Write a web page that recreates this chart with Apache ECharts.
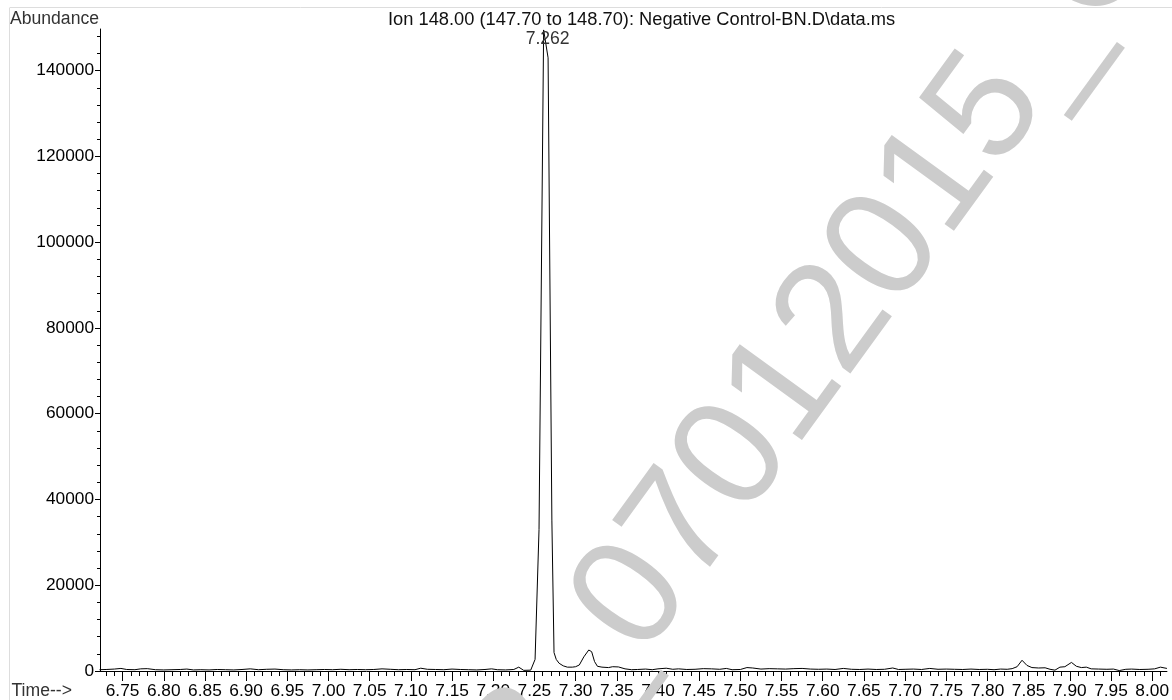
<!DOCTYPE html>
<html>
<head>
<meta charset="utf-8">
<script src="https://cdn.jsdelivr.net/npm/echarts@6/dist/echarts.min.js"></script>
<style>
html,body{margin:0;padding:0;background:#fff;}
#chart{width:1172px;height:700px;}
</style>
</head>
<body>
<div id="chart"></div>
<script>
// ---- data ----
var chartTitle = 'Ion 148.00 (147.70 to 148.70): Negative Control-BN.D\\data.ms';
var yAxisTitle = 'Abundance';
var xAxisTitle = 'Time-->';

var scanTimes = [
  6.722, 6.730, 6.740, 6.748, 6.755, 6.765, 6.772, 6.780, 6.790, 6.800,
  6.810, 6.820, 6.828, 6.836, 6.845, 6.855, 6.865, 6.875, 6.885, 6.895,
  6.905, 6.915, 6.925, 6.935, 6.945, 6.955, 6.965, 6.975, 6.985, 6.995,
  7.005, 7.015, 7.025, 7.035, 7.045, 7.055, 7.065, 7.075, 7.085, 7.095,
  7.105, 7.112, 7.120, 7.130, 7.140, 7.150, 7.160, 7.170, 7.180, 7.190,
  7.198, 7.205, 7.215, 7.225, 7.231, 7.237, 7.2455, 7.2508, 7.2556, 7.2612,
  7.2666, 7.2712, 7.2738, 7.2765, 7.2800, 7.2850, 7.2900, 7.2960, 7.3000, 7.3045,
  7.3100, 7.3160, 7.3195, 7.3230, 7.3265, 7.3320, 7.3400, 7.3450, 7.3520, 7.3600,
  7.368, 7.375, 7.385, 7.393, 7.400, 7.410, 7.418, 7.425, 7.435, 7.445,
  7.455, 7.465, 7.475, 7.483, 7.490, 7.500, 7.508, 7.515, 7.525, 7.535,
  7.545, 7.555, 7.565, 7.575, 7.585, 7.595, 7.605, 7.615, 7.625, 7.635,
  7.645, 7.655, 7.665, 7.675, 7.685, 7.692, 7.700, 7.710, 7.720, 7.730,
  7.740, 7.750, 7.760, 7.770, 7.780, 7.790, 7.800, 7.808, 7.816, 7.824,
  7.830, 7.836, 7.842, 7.848, 7.854, 7.862, 7.870, 7.876, 7.882, 7.888,
  7.894, 7.902, 7.908, 7.914, 7.920, 7.926, 7.935, 7.945, 7.953, 7.960,
  7.968, 7.975, 7.985, 7.995, 8.003, 8.010, 8.0179
];
var abundance = [
  300, 350, 450, 600, 350, 300, 500, 550, 300, 250,
  300, 350, 450, 250, 300, 250, 350, 300, 250, 350,
  500, 300, 400, 450, 300, 250, 300, 250, 300, 350,
  300, 400, 300, 350, 300, 350, 500, 400, 300, 350,
  300, 650, 400, 350, 300, 450, 350, 300, 250, 350,
  500, 300, 250, 350, 900, 150, 200, 2700, 33000, 149500,
  143000, 35000, 4300, 2700, 1800, 1200, 900, 900, 1000, 1400,
  3300, 4900, 4500, 2200, 1100, 900, 800, 1000, 950, 500,
  300, 350, 450, 300, 500, 650, 400, 500, 350, 400,
  550, 500, 400, 600, 300, 350, 800, 700, 450, 550,
  500, 450, 550, 600, 450, 400, 450, 350, 600, 400,
  350, 450, 350, 400, 700, 350, 400, 450, 350, 600,
  400, 450, 400, 350, 450, 350, 400, 300, 450, 400,
  550, 1000, 2500, 1300, 800, 700, 750, 400, 200, 900,
  1000, 2000, 1100, 800, 900, 500, 450, 400, 450, 100,
  400, 450, 350, 400, 500, 900, 600
];

var peakTimes = [7.2612];
var peakValues = [149500];
var peakLabels = ['7.262'];

var xTickValues = [6.75, 6.80, 6.85, 6.90, 6.95, 7.00, 7.05, 7.10, 7.15, 7.20, 7.25, 7.30, 7.35,
                   7.40, 7.45, 7.50, 7.55, 7.60, 7.65, 7.70, 7.75, 7.80, 7.85, 7.90, 7.95, 8.00];
var yTickValues = [0, 20000, 40000, 60000, 80000, 100000, 120000, 140000];

var xMin = 6.7226, xMax = 8.0179;
var yMin = 0, yMax = 149720;

var watermarkText = 'B_07012015_C';

// minor tick positions (layout only)
var xMinorTicks = [];
for (var i = 673; i <= 801; i++) xMinorTicks.push(i / 100);
var yMinorTicks = [];
for (var j = 0; j <= 148000; j += 4000) yMinorTicks.push(j);

var seriesData = scanTimes.map(function (t, k) { return [t, abundance[k]]; });

var FONT = 'Liberation Sans, Arial, Helvetica, sans-serif';

var chart = echarts.init(document.getElementById('chart'), null, {renderer: 'canvas'});
chart.setOption({
  animation: false,
  backgroundColor: '#ffffff',
  grid: {left: 100, right: 0, top: 29, bottom: 29, containLabel: false},
  xAxis: [{
    type: 'value', min: xMin, max: xMax,
    axisLine: {show: true, lineStyle: {color: '#000', width: 1}},
    axisTick: {show: true, inside: false, length: 10, customValues: xTickValues, lineStyle: {color: '#000', width: 1}},
    axisLabel: {show: true, customValues: xTickValues, margin: 12, fontSize: 17.3, fontFamily: FONT, color: '#000',
      formatter: function (v) { return v.toFixed(2); }},
    splitLine: {show: false}
  }, {
    type: 'value', min: xMin, max: xMax, position: 'bottom',
    axisLine: {show: false},
    axisTick: {show: true, inside: false, length: 5, customValues: xMinorTicks, lineStyle: {color: '#000', width: 1}},
    axisLabel: {show: false},
    splitLine: {show: false}
  }],
  yAxis: [{
    type: 'value', min: yMin, max: yMax,
    axisLine: {show: true, lineStyle: {color: '#000', width: 1}},
    axisTick: {show: true, inside: false, length: 5, customValues: yTickValues, lineStyle: {color: '#000', width: 1}},
    axisLabel: {show: true, customValues: yTickValues, margin: 6, fontSize: 17.3, fontFamily: FONT, color: '#000',
      formatter: function (v) { return String(v); }},
    splitLine: {show: false}
  }, {
    type: 'value', min: yMin, max: yMax, position: 'left',
    axisLine: {show: false},
    axisTick: {show: true, inside: false, length: 3, customValues: yMinorTicks, lineStyle: {color: '#000', width: 1}},
    axisLabel: {show: false},
    splitLine: {show: false}
  }],
  series: [{
    type: 'line',
    xAxisIndex: 0, yAxisIndex: 0,
    data: seriesData,
    showSymbol: false,
    symbol: 'none',
    lineStyle: {color: '#000', width: 1},
    clip: true,
    markPoint: {
      symbol: 'circle', symbolSize: 0,
      itemStyle: {color: 'rgba(0,0,0,0)'},
      label: {show: true, position: 'inside', offset: [4, 9], fontSize: 17.6, fontFamily: FONT, color: '#333'},
      data: peakTimes.map(function (t, k) {
        return {coord: [t, peakValues[k]], value: peakLabels[k],
          label: {formatter: peakLabels[k]}};
      })
    }
  }],
  graphic: [
    {type: 'line', shape: {x1: 10, y1: 7.5, x2: 1172, y2: 7.5}, style: {stroke: '#dddddd', lineWidth: 1}, silent: true},
    {type: 'line', shape: {x1: 9.5, y1: 7.5, x2: 9.5, y2: 700}, style: {stroke: '#dddddd', lineWidth: 1}, silent: true},
    {type: 'text', x: 388, y: 19.5, style: {text: chartTitle, fontSize: 18.3, fontFamily: FONT, fill: '#111',
      align: 'left', verticalAlign: 'middle', textAlign: 'left', textVerticalAlign: 'middle'}, silent: true},
    {type: 'text', x: 10, y: 19.5, style: {text: yAxisTitle, fontSize: 17.6, fontFamily: FONT, fill: '#333',
      align: 'left', verticalAlign: 'middle', textAlign: 'left', textVerticalAlign: 'middle'}, silent: true},
    {type: 'text', x: 11.5, y: 691, style: {text: xAxisTitle, fontSize: 17.6, fontFamily: FONT, fill: '#333',
      align: 'left', verticalAlign: 'middle', textAlign: 'left', textVerticalAlign: 'middle'}, silent: true},
    {type: 'text', x: 497, y: 787, rotation: 54 * Math.PI / 180, z: 100,
      style: {text: watermarkText, fontSize: 155, fontFamily: FONT, fill: '#cccccc',
        align: 'left', verticalAlign: 'middle', textAlign: 'left', textVerticalAlign: 'middle'}, silent: true}
  ]
});
</script>
</body>
</html>
